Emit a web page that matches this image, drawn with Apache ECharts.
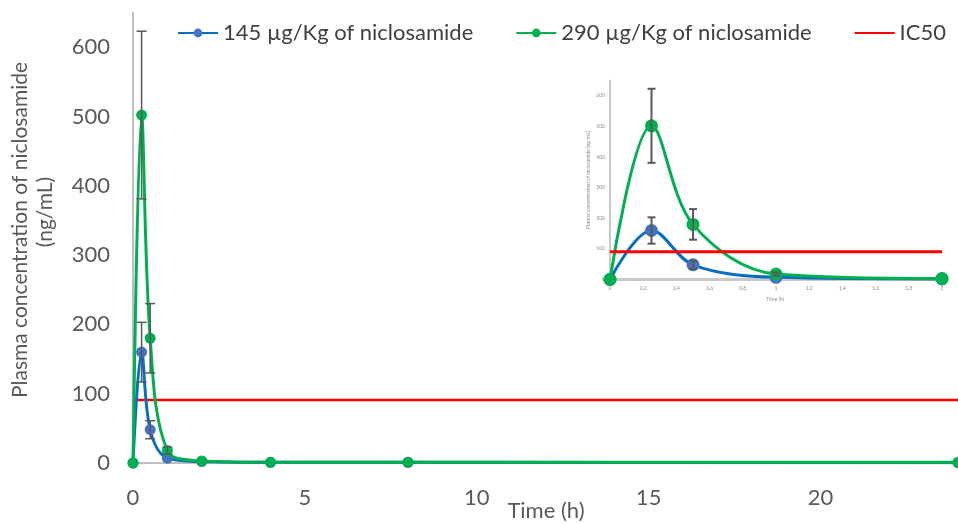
<!DOCTYPE html>
<html lang="en">
<head>
    <meta charset="UTF-8">
    <script src="https://cdn.jsdelivr.net/npm/echarts@6/dist/echarts.min.js"></script>
    <title>niclosamide</title>
    <style>
        html, body { margin: 0; padding: 0; background: #fff; }
    </style>
</head>
<body>
    <div id="main" style="width: 958px;height:523px;"></div>

    <script type="text/javascript">
        // sampling times (h)
        var times = [0, 0.25, 0.5, 1, 2, 4, 8, 24];
        // mean plasma concentration (ng/mL)
        var low = [0, 160, 48, 7, 2, 1, 1, 0.5];
        var high = [0, 502, 180, 18, 3, 1, 1, 1];
        // standard deviation
        var lowErr = [0, 43, 13, 0, 0, 0, 0, 0];
        var highErr = [0, 121, 50, 5, 0, 0, 0, 0];
        // inset shows the first two hours
        var insetTimes = [0, 0.25, 0.5, 1, 2];
        var ic50 = 91;

        var lowName = '145 µg/Kg of niclosamide';
        var highName = '290 µg/Kg of niclosamide';
        var blue = '#4472C4', blueLine = '#0A6EC0', green = '#00B050', red = '#FF0000';
        var font = 'Lato, "Open Sans", sans-serif';

        function pairs(xs, ys) {
            var out = [];
            for (var i = 0; i < xs.length; i++) out.push([xs[i], ys[i]]);
            return out;
        }

        function errorBars(idx, xs, ys, es, cap, lw) {
            var d = [];
            for (var i = 0; i < xs.length; i++) {
                if (es[i] > 0) d.push([xs[i], ys[i] - es[i], ys[i] + es[i]]);
            }
            return {
                type: 'custom',
                xAxisIndex: idx, yAxisIndex: idx,
                data: d,
                z: 5,
                silent: true,
                renderItem: function (params, api) {
                    var lo = api.coord([api.value(0), api.value(1)]);
                    var hi = api.coord([api.value(0), api.value(2)]);
                    var st = { stroke: '#595959', lineWidth: lw };
                    return {
                        type: 'group',
                        children: [
                            { type: 'line', shape: { x1: lo[0], y1: lo[1], x2: hi[0], y2: hi[1] }, style: st },
                            { type: 'line', shape: { x1: lo[0] - cap, y1: lo[1], x2: lo[0] + cap, y2: lo[1] }, style: st },
                            { type: 'line', shape: { x1: hi[0] - cap, y1: hi[1], x2: hi[0] + cap, y2: hi[1] }, style: st }
                        ]
                    };
                }
            };
        }

        function lineSeries(idx, name, xs, ys, lineColor, markColor, size, z) {
            return {
                name: name, type: 'line',
                xAxisIndex: idx, yAxisIndex: idx,
                data: pairs(xs, ys),
                smooth: 0.35,
                symbol: 'circle', symbolSize: size,
                showAllSymbol: true,
                z: z,
                lineStyle: { color: lineColor, width: 3 },
                itemStyle: { color: markColor },
                emphasis: { disabled: true }
            };
        }

        var myChart = echarts.init(document.getElementById('main'));

        var insetLow = low.slice(0, insetTimes.length);
        var insetHigh = high.slice(0, insetTimes.length);

        myChart.setOption({
            animation: false,
            textStyle: { fontFamily: font },
            legend: {
                top: 17, left: 172,
                itemWidth: 40, itemHeight: 11, itemGap: 42,
                textStyle: { fontSize: 22, color: '#404040', fontFamily: font },
                data: [lowName, highName, { name: 'IC50', itemStyle: { opacity: 0 } }]
            },
            grid: [
                { left: 133, right: 0, top: 12.5, bottom: 60, outerBoundsMode: 'none' },
                { left: 610, width: 332, top: 80.5, height: 199, outerBoundsMode: 'none' }
            ],
            xAxis: [{
                type: 'value', gridIndex: 0, min: 0, max: 24, interval: 5,
                splitLine: { show: false },
                axisTick: { show: false },
                axisLine: { lineStyle: { color: '#BFBFBF', width: 2 } },
                axisLabel: { fontSize: 22, color: '#595959', margin: 24, fontFamily: font,
                    formatter: function (v) { return v > 20 ? '' : v; } }
            }, {
                type: 'value', gridIndex: 1, min: 0, max: 2, interval: 0.2,
                splitLine: { show: false },
                axisTick: { show: false },
                axisLine: { lineStyle: { color: '#C8C8C8', width: 3 } },
                axisLabel: { fontSize: 5, color: '#8C8C8C', margin: 6,
                    formatter: function (v) { return String(+v.toFixed(1)).replace('.', ','); } }
            }],
            yAxis: [{
                type: 'value', gridIndex: 0, min: 0, max: 650, interval: 100,
                splitLine: { show: false },
                axisTick: { show: false },
                axisLine: { show: true, lineStyle: { color: '#BFBFBF', width: 2 } },
                axisLabel: { fontSize: 22, color: '#595959', margin: 23, fontFamily: font,
                    formatter: function (v) { return v > 600 ? '' : v; } }
            }, {
                type: 'value', gridIndex: 1, min: 0, max: 650, interval: 100,
                splitLine: { show: false },
                axisTick: { show: false },
                axisLine: { show: true, lineStyle: { color: '#C8C8C8', width: 2 } },
                axisLabel: { fontSize: 5, color: '#8C8C8C', margin: 5,
                    formatter: function (v) { return v > 600 ? '' : v; } }
            }],
            graphic: [{
                type: 'text', x: 20, y: 230, rotation: Math.PI / 2,
                style: {
                    text: 'Plasma concentration of niclosamide',
                    align: 'center', verticalAlign: 'middle',
                    font: '21px ' + font, fill: '#595959'
                }
            }, {
                type: 'text', x: 45, y: 212, rotation: Math.PI / 2,
                style: {
                    text: '(ng/mL)',
                    align: 'center', verticalAlign: 'middle',
                    font: '21px ' + font, fill: '#595959'
                }
            }, {
                type: 'text', x: 546, y: 511,
                style: {
                    text: 'Time (h)',
                    align: 'center', verticalAlign: 'middle',
                    font: '22px ' + font, fill: '#595959'
                }
            }, {
                type: 'text', x: 588, y: 180, rotation: Math.PI / 2,
                style: {
                    text: 'Plasma concentration of niclosamide (ng/mL)',
                    align: 'center', verticalAlign: 'middle',
                    font: '5px ' + font, fill: '#8C8C8C'
                }
            }, {
                type: 'text', x: 775, y: 299,
                style: {
                    text: 'Time (h)',
                    align: 'center', verticalAlign: 'middle',
                    font: '5px ' + font, fill: '#8C8C8C'
                }
            }],
            series: [
                lineSeries(0, lowName, times, low, blueLine, blue, 11, 2),
                lineSeries(0, highName, times, high, green, green, 11, 3),
                {
                    name: 'IC50', type: 'line', xAxisIndex: 0, yAxisIndex: 0,
                    data: [[0, ic50], [24, ic50]], symbol: 'none', z: 1,
                    lineStyle: { color: red, width: 2.5 }, itemStyle: { color: red }
                },
                errorBars(0, times, low, lowErr, 5, 1.5),
                errorBars(0, times, high, highErr, 5, 1.5),

                lineSeries(1, lowName, insetTimes, insetLow, blueLine, blue, 13, 2),
                lineSeries(1, highName, insetTimes, insetHigh, green, green, 13, 3),
                {
                    name: 'IC50', type: 'line', xAxisIndex: 1, yAxisIndex: 1,
                    data: [[0, ic50], [2, ic50]], symbol: 'none', z: 4,
                    lineStyle: { color: red, width: 3 }, itemStyle: { color: red }
                },
                errorBars(1, insetTimes, insetLow, lowErr.slice(0, insetTimes.length), 4, 2),
                errorBars(1, insetTimes, insetHigh, highErr.slice(0, insetTimes.length), 4, 2)
            ]
        });
    </script>
</body>
</html>
